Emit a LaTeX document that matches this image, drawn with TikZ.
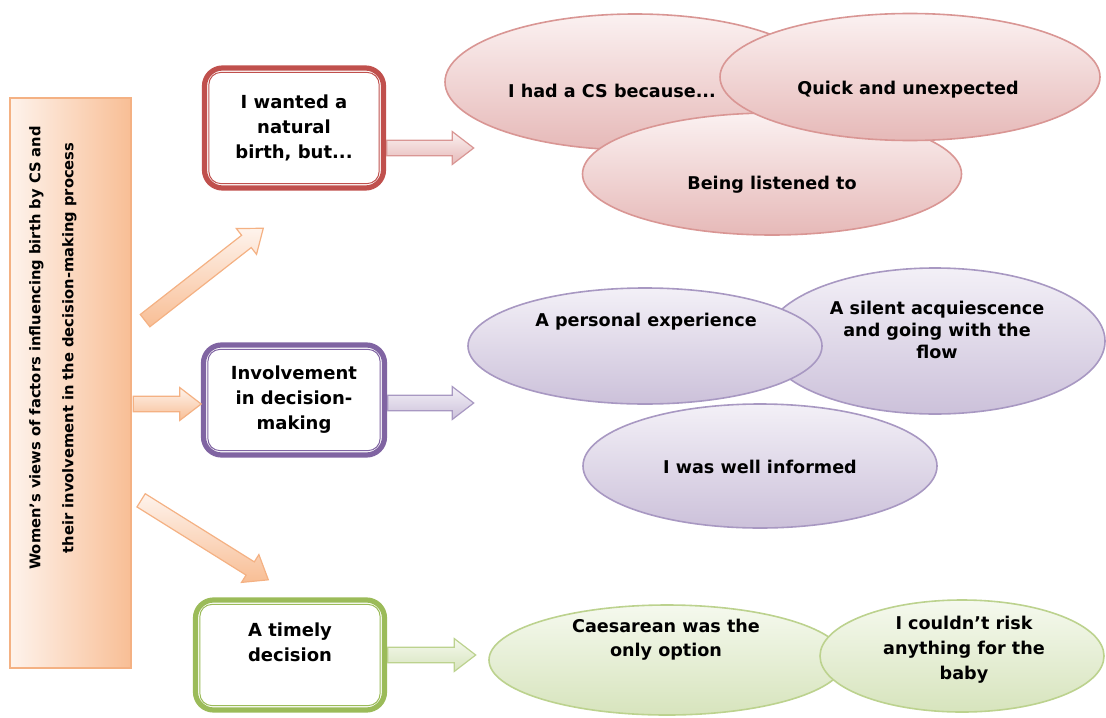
\documentclass[tikz,border=0pt]{standalone}
\usepackage{fontspec}
\setmainfont{DejaVu Sans}
\usetikzlibrary{shapes.geometric,shapes.arrows,calc}

\definecolor{redline}{HTML}{C0504D}
\definecolor{redsoft}{HTML}{D99694}
\definecolor{redtop}{HTML}{FBF1F1}
\definecolor{redbot}{HTML}{E6B9B8}
\definecolor{purline}{HTML}{8064A2}
\definecolor{pursoft}{HTML}{A898C2}
\definecolor{purtop}{HTML}{F3F0F7}
\definecolor{purbot}{HTML}{CCC1DA}
\definecolor{grnline}{HTML}{9BBB59}
\definecolor{grnsoft}{HTML}{BCD28E}
\definecolor{grntop}{HTML}{F5F9EE}
\definecolor{grnbot}{HTML}{D7E4BD}
\definecolor{orgsoft}{HTML}{F4B183}
\definecolor{orgbot}{HTML}{F8BE95}
\definecolor{orgtop}{HTML}{FEF3EC}

\tikzset{
  bubble/.style={ellipse, draw=#1soft, line width=0.8pt, top color=#1top, bottom color=#1bot, inner sep=0pt},
  bubtext/.style={align=center, font=\bfseries\fontsize{8.8}{11.5}\selectfont},
  topic/.style={rectangle, rounded corners=9pt, draw=#1line, line width=2.6pt, fill=white, align=center, inner sep=0pt, font=\bfseries\fontsize{9}{12.5}\selectfont},
  topicin/.style={draw=#1line, line width=0.5pt, rounded corners=6pt},
  blockarrow/.style={single arrow, draw=#1soft, line width=0.6pt, top color=#1top, bottom color=#1bot, inner xsep=0pt, inner ysep=3.6pt, single arrow head extend=4.3pt, single arrow tip angle=75, anchor=tail}
}

\begin{document}
\begin{tikzpicture}[x=0.5pt, y=-0.5pt]
\useasboundingbox (0,0) rectangle (1106,717);

% left title bar
\node (main) at (70.5,383) [rectangle, draw=orgsoft, line width=0.6pt, left color=orgtop, right color=orgbot, minimum width=60.5pt, minimum height=285pt, inner sep=0pt] {};
\node (maintext) at (53,348) [rotate=90, align=center, font=\bfseries\fontsize{7.35}{16.5}\selectfont] {Women’s views of factors influencing birth by CS and\\their involvement in the decision-making process};

% three themes
\node (b1) at (294,128) [topic=red, minimum width=89.5pt, minimum height=60pt] {I wanted a\\natural\\birth, but...};
\node (b2) at (294,400) [topic=pur, minimum width=90.5pt, minimum height=55pt] {Involvement\\in decision-\\making};
\node (b3) at (290,655) [topic=grn, minimum width=94.5pt, minimum height=55pt] {A timely\\decision\\\mbox{}};
\draw[topicin=red] ([shift={(7,7)}]b1.north west) rectangle ([shift={(-7,-7)}]b1.south east);
\draw[topicin=pur] ([shift={(7,7)}]b2.north west) rectangle ([shift={(-7,-7)}]b2.south east);
\draw[topicin=grn] ([shift={(7,7)}]b3.north west) rectangle ([shift={(-7,-7)}]b3.south east);

% arrows from the title bar
\node (a1) at ($(main.east)+(13,-62)$) [blockarrow=org, rotate=38, minimum height=75pt] {};
\node (a2) at ($(main.east)+(1,21)$) [blockarrow=org, minimum height=34pt] {};
\node (a3) at ($(main.east)+(9,117)$) [blockarrow=org, rotate=-32, minimum height=75pt] {};

% arrows from the themes
\node (r1) at ($(b1.east)+(0,20)$) [blockarrow=red, minimum height=43.5pt] {};
\node (p1) at ($(b2.east)+(0,3)$) [blockarrow=pur, minimum height=43pt] {};
\node (g1) at ($(b3.east)+(0,0)$) [blockarrow=grn, minimum height=44pt] {};

% sub-themes
\node (e1) at (635,82) [bubble=red, minimum width=190pt, minimum height=68pt] {};
\node (e3) at (772,174) [bubble=red, minimum width=189.5pt, minimum height=61pt] {};
\node (e2) at (910,77) [bubble=red, minimum width=190pt, minimum height=63.5pt] {};

\node (f2) at (935,341) [bubble=pur, minimum width=170pt, minimum height=73pt] {};
\node (f3) at (760,466) [bubble=pur, minimum width=177pt, minimum height=62pt] {};
\node (f1) at (645,346) [bubble=pur, minimum width=177pt, minimum height=58pt] {};

\node (h1) at (667,660) [bubble=grn, minimum width=178pt, minimum height=55pt] {};
\node (h2) at (962,656) [bubble=grn, minimum width=142pt, minimum height=56pt] {};

\node (e1t) at (612,91) [bubtext] {I had a CS because...};
\node (e2t) at (908,90) [bubtext] {Quick and unexpected};
\node (e3t) at (772,185) [bubtext] {Being listened to};
\node (f1t) at (646,322) [bubtext] {A personal experience};
\node (f2t) at (937,330) [bubtext, font=\bfseries\fontsize{8.8}{11}\selectfont] {A silent acquiescence\\and going with the\\flow};
\node (f3t) at (760,467) [bubtext] {I was well informed};
\node (h1t) at (666,640) [bubtext, font=\bfseries\fontsize{8.8}{12}\selectfont] {Caesarean was the\\only option};
\node (h2t) at (964,650) [bubtext, font=\bfseries\fontsize{8.8}{12.5}\selectfont] {I couldn’t risk\\anything for the\\baby};
\end{tikzpicture}
\end{document}
